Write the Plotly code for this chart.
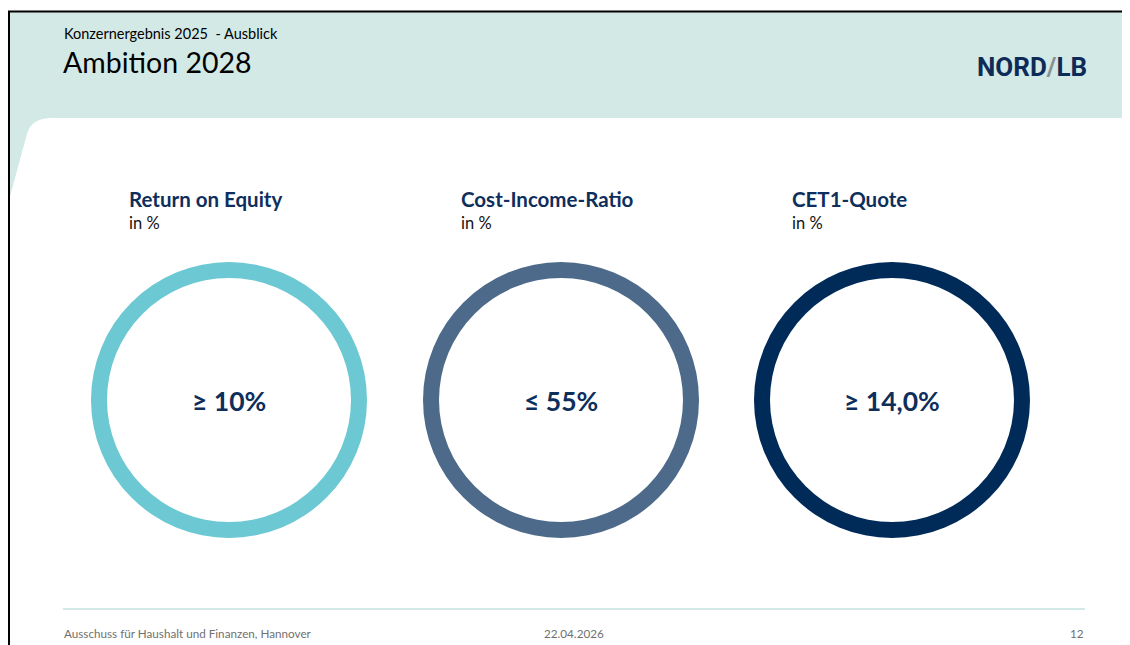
import plotly.graph_objects as go

# ---- data ----
kpi_titles = ["Return on Equity", "Cost-Income-Ratio", "CET1-Quote"]
kpi_units = ["in %", "in %", "in %"]
kpi_labels = ["≥ 10%", "≤ 55%", "≥ 14,0%"]
kpi_targets = [10, 55, 14.0]
kpi_colors = ["#6cc8d2", "#4d6a8b", "#002b59"]

header_sub = "Konzernergebnis 2025  - Ausblick"
header_title = "Ambition 2028"
footer_left = "Ausschuss für Haushalt und Finanzen, Hannover"
footer_mid = "22.04.2026"
footer_right = "12"

W, H = 1130, 645
OX, OY = 8, 8          # page offset of the plot div (browser body margin)
FW, FH = W - OX, H - OY
TEAL = "#d3e9e6"
NAVY = "#0e2f5c"
FONT = "Lato"

centers_x = [229, 561, 892]
center_y = 400
r_out = 138
r_in = 122


def px_x(x):
    return (x - OX) / FW


def px_y(y):
    return 1 - (y - OY) / FH


fig = go.Figure()

# ring "slices" — one full slice per KPI
for i, (t, col) in enumerate(zip(kpi_targets, kpi_colors)):
    cx = centers_x[i]
    fig.add_trace(go.Pie(
        values=[t], labels=[kpi_titles[i]], hole=r_in / r_out,
        marker=dict(colors=[col], line=dict(width=0)),
        textinfo="none", hoverinfo="label", sort=False, showlegend=False,
        domain=dict(x=[px_x(cx - r_out), px_x(cx + r_out)],
                    y=[px_y(center_y + r_out), px_y(center_y - r_out)]),
    ))

shapes = [
    # header band
    dict(type="rect", xref="x", yref="y", x0=9, x1=W, y0=12, y1=210,
         fillcolor=TEAL, line=dict(width=0), layer="below"),
    # white content area with rounded, slanted left corner
    dict(type="path", xref="x", yref="y",
         path="M 1130,118 L 52,118 Q 31,118 27,134 L 9,200 L 9,645 L 1130,645 Z",
         fillcolor="white", line=dict(width=0), layer="below"),
    # black border
    dict(type="line", xref="x", yref="y", x0=8, x1=W, y0=11.5, y1=11.5,
         line=dict(color="black", width=2)),
    dict(type="line", xref="x", yref="y", x0=9, x1=9, y0=11, y1=H,
         line=dict(color="black", width=2)),
    # footer rule
    dict(type="line", xref="x", yref="y", x0=63, x1=1085, y0=609, y1=609,
         line=dict(color=TEAL, width=2)),
]

ann = []


def A(x, y, text, size, color="black", xanchor="left", bold=False, family=FONT):
    ann.append(dict(x=x, y=y, xref="x", yref="y", text=(f"<b>{text}</b>" if bold else text),
                    showarrow=False, xanchor=xanchor, yanchor="middle",
                    font=dict(size=size, color=color, family=family)))


A(62, 33, header_sub, 14.5)
A(61, 62, header_title, 28.5)
ann.append(dict(x=1089, y=67, xref="x", yref="y", showarrow=False, xanchor="right", yanchor="middle",
                text="<b>NORD<span style='color:#8a8f92'>/</span>LB</b>",
                font=dict(size=26, color="#0d2b57", family="Roboto")))

title_x = [127, 459, 790]
for i in range(3):
    A(title_x[i], 199, kpi_titles[i], 20.5, NAVY, bold=True)
    A(title_x[i], 223, kpi_units[i], 16.5, "#111111")
    A(centers_x[i], 401, kpi_labels[i], 26.5, NAVY, xanchor="center", bold=True)

A(62, 633, footer_left, 11.7, "#707070")
A(574, 633, footer_mid, 11.7, "#707070", xanchor="center")
A(1086, 633, footer_right, 11.7, "#707070", xanchor="right")

fig.update_layout(
    width=FW, height=FH, margin=dict(l=0, r=0, t=0, b=0),
    paper_bgcolor="white", plot_bgcolor="rgba(0,0,0,0)",
    xaxis=dict(range=[OX, W], visible=False, fixedrange=True),
    yaxis=dict(range=[H, OY], visible=False, fixedrange=True),
    shapes=shapes, annotations=ann, showlegend=False,
)

fig.write_html("out.html")
